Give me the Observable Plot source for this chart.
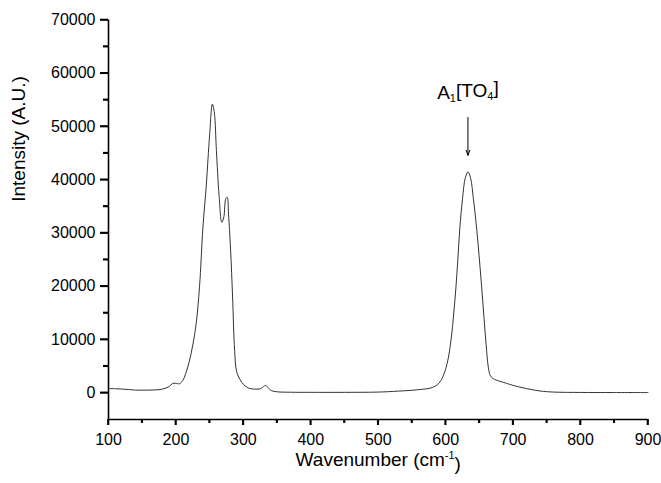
<!DOCTYPE html>
<html>
<head>
<meta charset="utf-8">
<script src="https://cdn.jsdelivr.net/npm/d3@7"></script>
<script src="https://cdn.jsdelivr.net/npm/@observablehq/plot@0.6"></script>
<style>
  html, body { margin: 0; padding: 0; background: #fff; overflow: hidden; }
</style>
</head>
<body>
<div id="chart"></div>
<script>
// Raman spectrum
const wavenumber = [100,110,120,130,140,150,160,170,180,190,195,200,205,210,215,220,225,230,235,240,245,250,254,257,260,264,268,271,274,276,278,281,284,287,290,295,300,305,310,320,326,330,333,337,342,350,370,400,450,500,530,560,580,590,597,603,608,612,615,618,621,625,629,633,637,641,645,648,651,654,657,660,663,666,670,675,690,700,720,740,760,800,850,900];
const intensity  = [800,780,720,620,520,500,520,560,700,1200,1750,1800,1700,2300,3800,6000,9000,13000,20000,31000,39000,48500,54200,52500,45500,37000,32000,33000,36500,36700,33500,27000,18000,8000,4000,2500,1600,1100,800,700,800,1200,1400,900,400,200,120,100,100,150,330,600,1000,1800,3400,6000,10000,15000,19500,25000,31000,36500,40300,41500,40300,36500,32000,28000,23500,18800,13800,9000,5000,3300,2700,2400,1800,1400,800,350,150,80,60,60];

const annotationLabel = ["A1[TO4]"];
const annotationX = [633];
const arrowTop = [51700];
const arrowBottom = [44600];
const labelY = [56300];

const xDomain = [100, 900];
const yDomain = [-5000, 70000];
const yMajorTicks = [0,10000,20000,30000,40000,50000,60000,70000];
const yMinorTicks = [5000,15000,25000,35000,45000,55000,65000];
const xMajorTicks = [100,200,300,400,500,600,700,800,900];
const xMinorTicks = [150,250,350,450,550,650,750,850];

const spectrum = wavenumber.map((w, i) => ({w, v: intensity[i]}));
const annotations = annotationLabel.map((t, i) => ({t, x: annotationX[i], y1: arrowTop[i], y2: arrowBottom[i], ly: labelY[i]}));
const xLeft = xDomain[0], yBottom = yDomain[0];

const chart = Plot.plot({
  width: 661,
  height: 483,
  marginLeft: 108,
  marginRight: 13.5,
  marginTop: 19.5,
  marginBottom: 64,
  style: {fontFamily: "'Liberation Sans', Arial, sans-serif", fontSize: "16px", background: "#fff", color: "#000"},
  x: {domain: xDomain},
  y: {domain: yDomain},
  marks: [
    Plot.axisY({ticks: yMajorTicks, tickSize: 8, tickPadding: 5, tickFormat: d => String(d), label: null, stroke: "#000", strokeWidth: 1.6, fontSize: 16}),
    Plot.axisY({ticks: yMinorTicks, tickSize: 5, tickFormat: () => "", label: null, stroke: "#000", strokeWidth: 1.6}),
    Plot.axisX({ticks: xMajorTicks, tickSize: 6, tickPadding: 8, tickFormat: d => String(d), label: null, stroke: "#000", strokeWidth: 1.6, fontSize: 16}),
    Plot.axisX({ticks: xMinorTicks, tickSize: 4, tickFormat: () => "", label: null, stroke: "#000", strokeWidth: 1.6}),
    Plot.ruleX([xLeft], {y1: yDomain[0], y2: yDomain[1], stroke: "#000", strokeWidth: 1.6}),
    Plot.ruleY([yBottom], {x1: xDomain[0], x2: xDomain[1], stroke: "#000", strokeWidth: 1.6}),
    Plot.line(spectrum, {x: "w", y: "v", curve: "catmull-rom", stroke: "#333", strokeWidth: 1}),
    Plot.arrow(annotations, {x1: "x", x2: "x", y1: "y1", y2: "y2", stroke: "#000", strokeWidth: 1, headLength: 8, headAngle: 40}),
    Plot.text(annotations, {x: "x", y: "ly", text: "t", fontSize: 19, fill: "#000"}),
    Plot.text(["Wavenumber (cm-1)"], {frameAnchor: "bottom", dy: 46, fontSize: 19, fill: "#000"}),
    Plot.text(["Intensity (A.U.)"], {frameAnchor: "left", dx: -90, dy: -18, rotate: -90, fontSize: 19, fill: "#000"})
  ]
});

// rich text: subscripts / superscript
d3.select(chart).selectAll("text").each(function() {
  const el = d3.select(this);
  const txt = this.textContent;
  if (txt === "A1[TO4]") {
    el.text(null);
    el.append("tspan").text("A");
    el.append("tspan").attr("dy", "0.3em").attr("font-size", "11").text("1");
    el.append("tspan").attr("dy", "-0.3em").text("[TO");
    el.append("tspan").attr("dy", "0.3em").attr("font-size", "11").text("4");
    el.append("tspan").attr("dy", "-0.3em").text("]");
  } else if (txt === "Wavenumber (cm-1)") {
    el.text(null);
    el.append("tspan").text("Wavenumber (cm");
    el.append("tspan").attr("dy", "-0.55em").attr("font-size", "11").text("-1");
    el.append("tspan").attr("dy", "0.55em").text(")");
  }
});

// tick strokes placed with the plot's own scales, drawn on top
try {
  const sx = chart.scale("x"), sy = chart.scale("y");
  const g = d3.select(chart).append("g").attr("stroke", "#000").attr("stroke-width", 1.6);
  const x0 = sx.apply(xLeft), y0 = sy.apply(yBottom);
  [[yMajorTicks, 8], [yMinorTicks, 5]].forEach(([ticks, len]) => ticks.forEach(v => {
    const y = sy.apply(v);
    g.append("line").attr("x1", x0 - len).attr("x2", x0).attr("y1", y).attr("y2", y);
  }));
  [[xMajorTicks, 6], [xMinorTicks, 4]].forEach(([ticks, len]) => ticks.forEach(v => {
    const x = sx.apply(v);
    g.append("line").attr("x1", x).attr("x2", x).attr("y1", y0).attr("y2", y0 + len);
  }));
} catch (e) {}

document.getElementById("chart").appendChild(chart);
</script>
</body>
</html>
